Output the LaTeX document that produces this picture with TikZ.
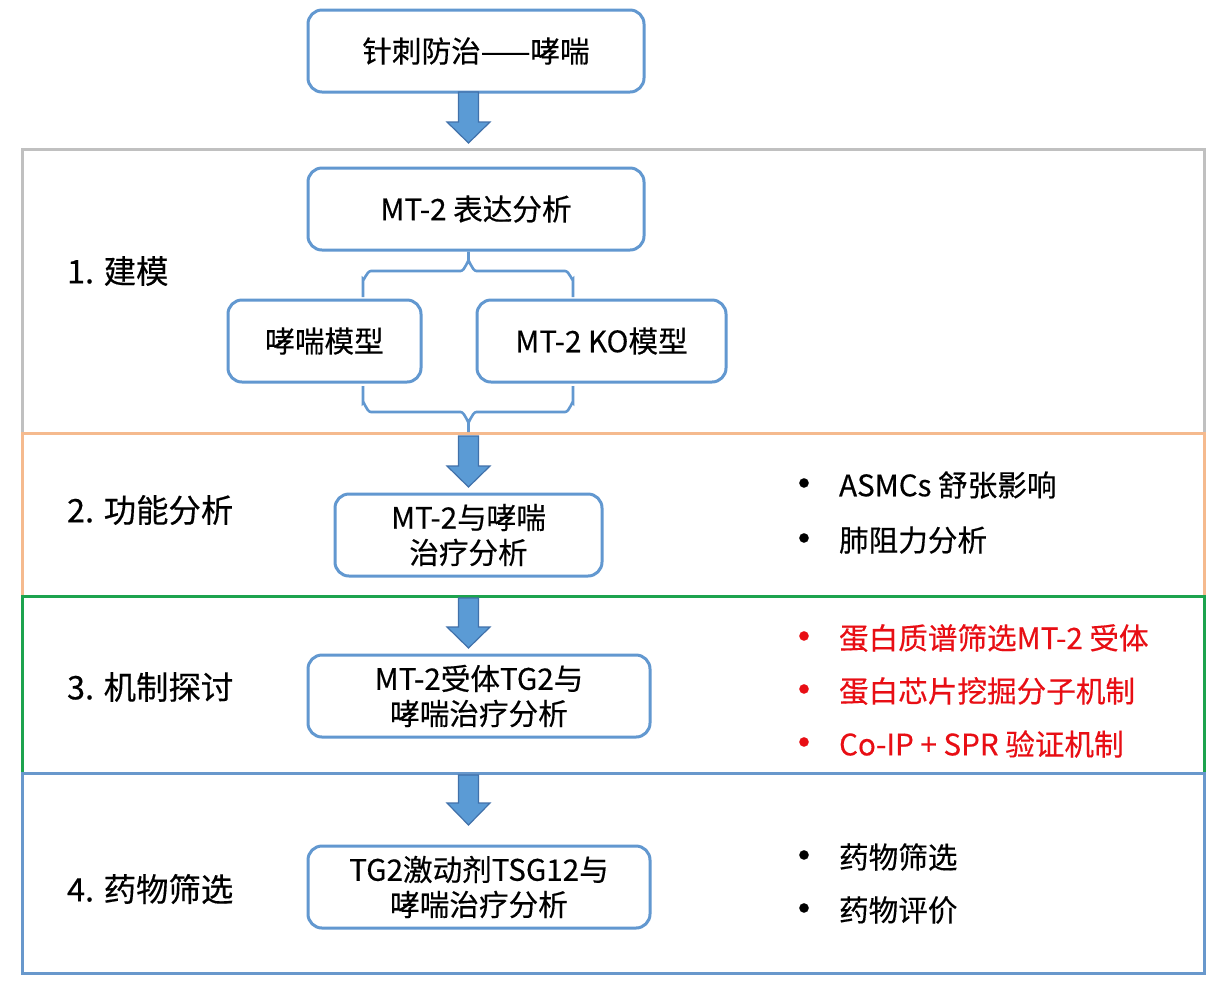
\documentclass[tikz,border=0pt]{standalone}
\usepackage{fontspec}
\setmainfont{Noto Sans CJK SC}[FakeBold=0.35]
\usetikzlibrary{calc}
\definecolor{boxblue}{RGB}{98,152,208}
\definecolor{arrfill}{RGB}{91,155,213}
\definecolor{arrline}{RGB}{65,113,170}
\definecolor{secgray}{RGB}{192,192,192}
\definecolor{secorange}{RGB}{245,186,142}
\definecolor{secgreen}{RGB}{28,163,78}
\definecolor{secblue}{RGB}{104,152,204}
\definecolor{txtred}{RGB}{232,14,20}
\newcommand{\blockarr}[3]{\draw[blockarrow] (458.5,#1) -- (478.5,#1) -- (478.5,#2) -- (490,#2) -- (468.5,#3) -- (447,#2) -- (458.5,#2) -- cycle;}
\begin{document}
\begin{tikzpicture}[x=0.5pt,y=-0.5pt,
  every node/.style={font=\fontsize{14.8}{17.5}\selectfont},
  box/.style={draw=boxblue, line width=1.5pt, rounded corners=7pt, fill=white, minimum height=41pt, inner sep=0pt, align=center},
  section/.style={line width=1.5pt},
  blockarrow/.style={fill=arrfill, draw=arrline, line width=0.6pt, line join=miter},
  brace/.style={draw=boxblue, line width=1.3pt},
  label/.style={anchor=west, font=\fontsize{16.2}{19}\selectfont},
  bullet/.style={anchor=center, font=\fontsize{22}{22}\selectfont},
  item/.style={anchor=west}]
\useasboundingbox (0,0) rectangle (1220,998);
\fill[white] (0,0) rectangle (1220,998);

% sections
\draw[section, secgray] (22,149) rectangle (1204,433);
\draw[section, secorange] (22,433) rectangle (1204,596);
\draw[section, secgreen] (22,596) rectangle (1204,773);
\draw[section, secblue] (22,773) rectangle (1204,973);

% boxes
\node[box, minimum width=168pt] (top) at (476,51) {针刺防治——哮喘};
\node[box, minimum width=168pt] (expr) at (476,209) {MT-2 表达分析};
\node[box, minimum width=96.5pt] (m1) at (324.5,341) {哮喘模型};
\node[box, minimum width=124.5pt] (m2) at (601.5,341) {MT-2 KO模型};
\node[box, minimum width=133.5pt] (func) at (468.5,535) {MT-2与哮喘\\治疗分析};
\node[box, minimum width=171pt] (mech) at (479,696) {MT-2受体TG2与\\哮喘治疗分析};
\node[box, minimum width=171pt] (drug) at (479,887) {TG2激动剂TSG12与\\哮喘治疗分析};

% braces
\coordinate (tbl) at (363,297);
\coordinate (tbr) at (573,297);
\coordinate (bbl) at (363,386);
\coordinate (bbr) at (573,386);
\coordinate (bbm) at (468.5,432);
\draw[brace] (expr.south -| 468.5,0) -- (468.5,262) to[out=90,in=0] (460.5,271) -- (371,271) to[out=180,in=-90] (363,279) -- (tbl);
\draw[brace] (468.5,262) to[out=90,in=180] (476.5,271) -- (565,271) to[out=0,in=-90] (573,279) -- (tbr);
\draw[brace] (bbl) -- (363,403) to[out=90,in=180] (371,412) -- (460.5,412) to[out=0,in=-90] (468.5,421) -- (bbm);
\draw[brace] (bbr) -- (573,403) to[out=90,in=0] (565,412) -- (476.5,412) to[out=180,in=-90] (468.5,421);

% block arrows
\blockarr{92}{122}{143}
\blockarr{436}{466}{487}
\blockarr{598}{627}{648}
\blockarr{775}{803}{825}

% section labels
\node[label] (l1) at (60,271) {1. 建模};
\node[label] (l2) at (60,510) {2. 功能分析};
\node[label] (l3) at (60,687) {3. 机制探讨};
\node[label] (l4) at (60,889) {4. 药物筛选};

% bullet lists
\node[bullet] (b1) at (804,489) {•};
\node[item] (i1) at (832,485) {ASMCs 舒张影响};
\node[bullet] (b2) at (804,544) {•};
\node[item] (i2) at (832,540) {肺阻力分析};

\node[bullet, text=txtred] (b3) at (804,642) {•};
\node[item, text=txtred] (i3) at (832,638) {蛋白质谱筛选MT-2 受体};
\node[bullet, text=txtred] (b4) at (804,695) {•};
\node[item, text=txtred] (i4) at (832,691) {蛋白芯片挖掘分子机制};
\node[bullet, text=txtred] (b5) at (804,748) {•};
\node[item, text=txtred] (i5) at (832,744) {Co-IP + SPR 验证机制};

\node[bullet] (b6) at (804,861) {•};
\node[item] (i6) at (832,857) {药物筛选};
\node[bullet] (b7) at (804,914) {•};
\node[item] (i7) at (832,910) {药物评价};
\end{tikzpicture}
\end{document}
